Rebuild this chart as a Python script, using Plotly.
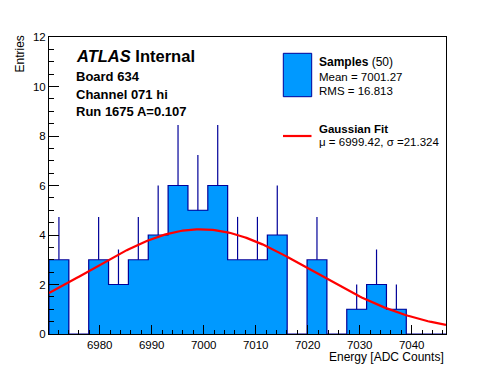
import numpy as np
import plotly.graph_objects as go

# ---- data ----
x_lo = 6970.25
x_hi = 7046.6
n_bins = 20
counts = [3, 0, 3, 2, 3, 4, 6, 5, 6, 3, 3, 4, 0, 3, 0, 1, 2, 1, 0, 0]
fit_mu = 6999.42
fit_sigma = 21.324
fit_const = 4.23
n_samples = 50
sample_mean = 7001.27
sample_rms = 16.813
x_ticks = [6980, 6990, 7000, 7010, 7020, 7030, 7040]
y_ticks = [0, 2, 4, 6, 8, 10, 12]

# ---- derived ----
binw = (x_hi - x_lo) / n_bins
edges = [x_lo + i * binw for i in range(n_bins + 1)]
centers = [x_lo + (i + 0.5) * binw for i in range(n_bins)]
errs = [float(np.sqrt(c)) for c in counts]

FILL = "#0099ff"
NAVY = "#000099"
RED = "#ff0000"
FONT = "Liberation Sans, Arial, Helvetica, sans-serif"

W, H = 496, 372
L, R, T, B = 49, 50, 37, 38
PW, PH = W - L - R, H - T - B


def px(x):
    return (x - L) / PW


def py(y):
    return (H - B - y) / PH


fig = go.Figure()

fig.add_trace(go.Bar(x=centers, y=counts, width=binw,
                     marker=dict(color=FILL, line=dict(width=0)),
                     showlegend=False, hoverinfo="skip"))

# step outline
sx = [edges[0]] + edges[:n_bins] + [edges[n_bins], edges[n_bins]]
sy = [0] + counts + [counts[-1], 0]
fig.add_trace(go.Scatter(x=sx, y=sy, mode="lines", line_shape="hv",
                         line=dict(color=NAVY, width=1.2),
                         showlegend=False, hoverinfo="skip"))

# error bars (upper part only visible)
ex = [c for c, n in zip(centers, counts) if n > 0]
ey = [n for n in counts if n > 0]
ee = [e for e, n in zip(errs, counts) if n > 0]
fig.add_trace(go.Scatter(x=ex, y=ey, mode="markers",
                         marker=dict(size=1, color="rgba(0,0,0,0)"),
                         error_y=dict(type="data", symmetric=False, array=ee,
                                      arrayminus=[0] * len(ee), width=0,
                                      thickness=1.2, color=NAVY),
                         showlegend=False, hoverinfo="skip"))

# gaussian fit
gx = np.linspace(x_lo, x_hi, 200)
gy = fit_const * np.exp(-0.5 * ((gx - fit_mu) / fit_sigma) ** 2)
fig.add_trace(go.Scatter(x=gx, y=gy, mode="lines",
                         line=dict(color=RED, width=2.2),
                         showlegend=False, hoverinfo="skip"))

annotations = []


def txt(text, x, y, size, xanchor="left", yanchor="middle", angle=0):
    annotations.append(dict(text=text, x=px(x), y=py(y), xref="paper", yref="paper",
                            xanchor=xanchor, yanchor=yanchor, showarrow=False,
                            textangle=angle,
                            font=dict(family=FONT, size=size, color="black")))


txt("<b><i>ATLAS</i> Internal</b>", 74, 56, 16.5)
txt("<b>Board 634</b>", 74, 76.5, 13)
txt("<b>Channel 071 hi</b>", 74, 94, 13)
txt("<b>Run 1675 A=0.107</b>", 74, 111, 13)

txt("<b>Samples</b> (%d)" % n_samples, 316.5, 62, 12)
txt("Mean = %.2f" % sample_mean, 316.5, 77, 11.5)
txt("RMS = %.3f" % sample_rms, 316.5, 90.5, 11.5)
txt("<b>Gaussian Fit</b>", 316.5, 128.5, 11.5)
txt("μ = %.2f, σ =%.3f" % (fit_mu, fit_sigma), 316.5, 142, 11.5)

txt("Energy [ADC Counts]", 446, 357, 12, xanchor="right")
txt("Entries", 20, 34, 12, xanchor="center", yanchor="top", angle=-90)

shapes = [
    dict(type="rect", xref="paper", yref="paper", x0=px(283.3), x1=px(311.7),
         y0=py(96.7), y1=py(53.3), fillcolor=FILL, line=dict(color=NAVY, width=1)),
    dict(type="line", xref="paper", yref="paper", x0=px(283), x1=px(311.5),
         y0=py(136), y1=py(136), line=dict(color=RED, width=2.2)),
]

axis_common = dict(showgrid=False, zeroline=False, showline=True, mirror=True,
                   linecolor="black", linewidth=1, ticks="inside",
                   tickcolor="black", tickwidth=1,
                   tickfont=dict(family=FONT, size=11.5, color="black"))

fig.update_layout(
    width=W, height=H,
    margin=dict(l=L, r=R, t=T, b=B, pad=0),
    paper_bgcolor="white", plot_bgcolor="white",
    bargap=0, showlegend=False,
    xaxis=dict(range=[x_lo, x_hi], tickmode="array", tickvals=x_ticks,
               ticktext=[str(v) for v in x_ticks], ticklen=9,
               minor=dict(ticks="inside", ticklen=4.5, dtick=2, tick0=6980,
                          tickcolor="black", showgrid=False),
               **axis_common),
    yaxis=dict(range=[0, 12], tickmode="array", tickvals=y_ticks,
               ticktext=[str(v) for v in y_ticks], ticklen=10,
               minor=dict(ticks="inside", ticklen=5, dtick=0.5, tick0=0,
                          tickcolor="black", showgrid=False),
               **axis_common),
    annotations=annotations,
    shapes=shapes,
)

fig.write_html("out.html", config={"displayModeBar": False},
               post_script="document.body.style.margin='0';document.body.style.padding='0';document.body.style.overflow='hidden';")
